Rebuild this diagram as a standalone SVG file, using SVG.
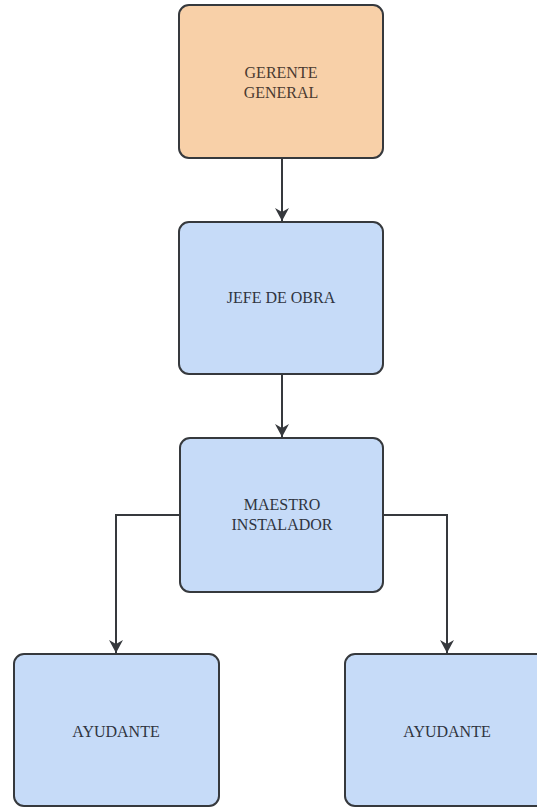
<svg xmlns="http://www.w3.org/2000/svg" width="537" height="807" viewBox="0 0 537 807">
<style>
.box{stroke:#36393d;stroke-width:2}
.org{fill:#f8d0a8}
.blue{fill:#c6dbf8}
.t{font-family:"Liberation Serif",serif;font-size:16px;fill:#2f3440;text-anchor:middle}
.t2{fill:#4a3a30}
.c{fill:none;stroke:#36393d;stroke-width:2}
</style>
<defs>
<marker id="ah" markerWidth="14" markerHeight="14" refX="13" refY="7" orient="auto" markerUnits="userSpaceOnUse">
<path d="M0,0 L13,7 L0,14 L4,7 Z" fill="#36393d"/>
</marker>
</defs>
<rect width="537" height="807" fill="#ffffff"/>
<g id="connectors">
<path class="c" d="M282,158 V221" marker-end="url(#ah)"/>
<path class="c" d="M282,374 V437" marker-end="url(#ah)"/>
<path class="c" d="M180,515 H116 V653" marker-end="url(#ah)"/>
<path class="c" d="M383,515 H447 V653" marker-end="url(#ah)"/>
</g>
<g id="gerente">
<rect class="box org" x="179" y="5" width="204" height="153" rx="10"/>
<text class="t t2" x="281" y="78">GERENTE</text>
<text class="t t2" x="281" y="98">GENERAL</text>
</g>
<g id="jefe">
<rect class="box blue" x="179" y="222" width="204" height="152" rx="10"/>
<text class="t" x="281" y="303">JEFE DE OBRA</text>
</g>
<g id="maestro">
<rect class="box blue" x="180" y="438" width="203" height="154" rx="10"/>
<text class="t" x="282" y="510">MAESTRO</text>
<text class="t" x="282" y="530">INSTALADOR</text>
</g>
<g id="ayudante1">
<rect class="box blue" x="14" y="654" width="205" height="152" rx="10"/>
<text class="t" x="116" y="737">AYUDANTE</text>
</g>
<g id="ayudante2">
<rect class="box blue" x="345" y="654" width="204" height="152" rx="10"/>
<text class="t" x="447" y="737">AYUDANTE</text>
</g>
</svg>
